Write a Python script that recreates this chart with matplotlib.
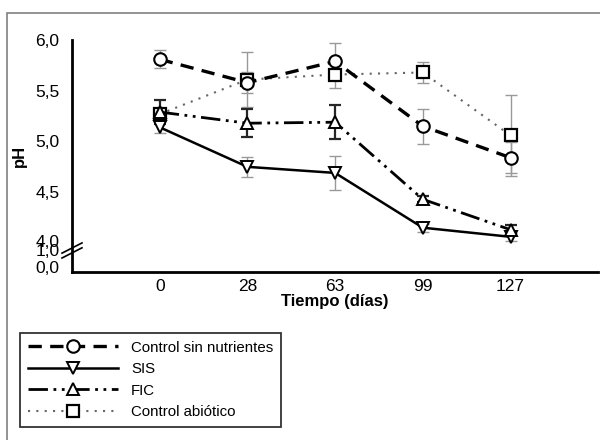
import numpy as np
import matplotlib
matplotlib.use('Agg')
from matplotlib import pyplot as plt
from matplotlib.patches import Rectangle

plt.rcParams['font.family'] = ['Liberation Sans', 'DejaVu Sans']

# data (pH vs time)
dias = ['0', '28', '63', '99', '127']

ctrl_sin = [5.81, 5.58, 5.79, 5.15, 4.84]
ctrl_sin_err = [0.09, 0.10, 0.18, 0.17, 0.15]

sis = [5.14, 4.75, 4.69, 4.15, 4.06]
sis_err = [0.06, 0.10, 0.17, 0.04, 0.04]

fic = [5.29, 5.18, 5.19, 4.43, 4.13]
fic_err = [0.12, 0.14, 0.17, 0.03, 0.05]

ctrl_abio = [5.27, 5.61, 5.66, 5.68, 5.06]
ctrl_abio_err = [0.05, 0.27, 0.13, 0.10, 0.40]

ytick_vals = [3.76, 3.93, 4.02, 4.5, 5.0, 5.5, 6.0]
ytick_labels = ['0,0', '1,0', '4,0', '4,5', '5,0', '5,5', '6,0']

x = np.arange(1, len(dias) + 1)

fig = plt.figure(figsize=(6, 4.4), dpi=100)
ax = fig.add_axes([0.12, 0.382, 0.877, 0.527])

# outer frame
fig.patches.append(Rectangle((7/600, -0.05), 1.05, 1 - 13/440 + 0.05,
                             transform=fig.transFigure, fill=False,
                             edgecolor='0.5', lw=1.2))

# error bars
ax.errorbar(x, ctrl_abio, yerr=ctrl_abio_err, fmt='none', ecolor='0.6',
            elinewidth=1, capsize=4, capthick=1, zorder=2)
ax.errorbar(x, ctrl_sin, yerr=ctrl_sin_err, fmt='none', ecolor='0.6',
            elinewidth=1, capsize=4, capthick=1, zorder=2)
ax.errorbar(x, sis, yerr=sis_err, fmt='none', ecolor='0.6',
            elinewidth=1, capsize=4, capthick=1, zorder=2)
ax.errorbar(x, fic, yerr=fic_err, fmt='none', ecolor='0.15',
            elinewidth=1.6, capsize=4, capthick=1.6, zorder=2)

# series
ax.plot(x, ctrl_sin, color='black', lw=2.4, dashes=(4, 2.5), marker='o', ms=9,
        mfc='white', mec='black', mew=1.5, label='Control sin nutrientes', zorder=4)
ax.plot(x, sis, color='black', lw=1.8, ls='-', marker='v', ms=8,
        mfc='white', mec='black', mew=1.4, label='SIS', zorder=4)
ax.plot(x, fic, color='black', lw=2, dashes=(7, 2, 1, 2, 1, 2), marker='^', ms=8,
        mfc='white', mec='black', mew=1.4, label='FIC', zorder=4)
ax.plot(x, ctrl_abio, color='0.4', lw=1.5, dashes=(1, 3), marker='s', ms=8,
        mfc='white', mec='black', mew=1.6, label='Control abiótico', zorder=3)

ax.set_xlim(0, 6)
ax.set_ylim(3.714, 6.0)
ax.set_xticks(x)
ax.set_xticklabels(dias)
ax.set_yticks(ytick_vals)
ax.set_yticklabels(ytick_labels)
ax.tick_params(axis='both', length=0, labelsize=12.5)
ax.tick_params(axis='y', pad=9)
ax.tick_params(axis='x', pad=5)

for s in ['top', 'right']:
    ax.spines[s].set_visible(False)
for s in ['left', 'bottom']:
    ax.spines[s].set_linewidth(2)

ax.set_ylabel('pH', fontsize=12, fontweight='bold', labelpad=6)
ax.set_xlabel('Tiempo (días)', fontsize=12, fontweight='bold', labelpad=0)

# axis break marks
for yc in [0.103, 0.082]:
    ax.plot([-0.019, 0.019], [yc - 0.022, yc + 0.022], transform=ax.transAxes,
            color='black', lw=1.2, clip_on=False, zorder=5)

leg = ax.legend(loc='upper left', bbox_to_anchor=(20/600, 1 - 333/440),
                bbox_transform=fig.transFigure, fontsize=10.8, handlelength=6.0,
                handletextpad=0.9, labelspacing=0.5, numpoints=1,
                fancybox=False, borderpad=0.5, borderaxespad=0)
leg.get_frame().set_edgecolor('black')
leg.get_frame().set_linewidth(1.3)

fig.savefig('out.png', dpi=100)
